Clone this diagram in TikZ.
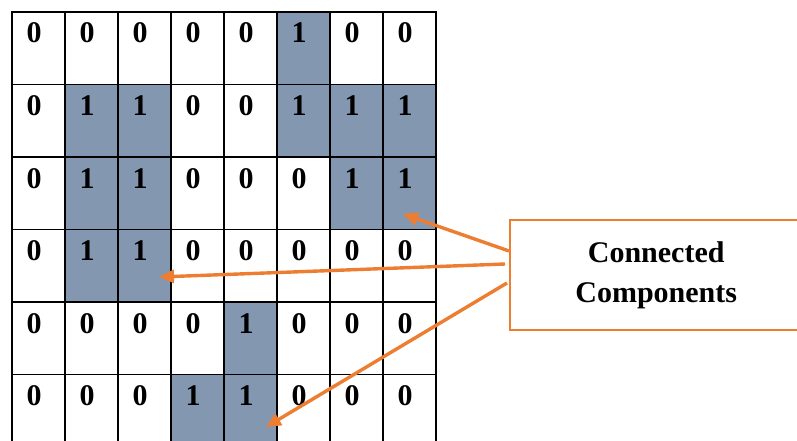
\documentclass[tikz,border=0pt]{standalone}
\usepackage{fontspec}
\setmainfont{Liberation Serif}
\usetikzlibrary{arrows.meta}
\definecolor{cellblue}{HTML}{8497B0}
\definecolor{orng}{HTML}{ED7D31}
\begin{document}
\begin{tikzpicture}[x=1pt,y=-1pt,
  cellnum/.style={font=\fontsize{30}{36}\selectfont\bfseries, anchor=base, inner sep=0pt},
  gridline/.style={line width=1.6pt, black},
  labelbox/.style={draw=orng, line width=2.4pt, minimum width=292pt, minimum height=110pt,
    align=center, anchor=north west, inner sep=0pt, font=\fontsize{30}{39.5}\selectfont\bfseries},
  arr/.style={draw=orng, line width=3.4pt, -{Triangle[length=15pt,width=13pt]}}]
\useasboundingbox (0,0) rectangle (797,441);
\clip (0,0) rectangle (797,441);
% shaded cells and numbers
\foreach \row [count=\r from 0] in {{0,0,0,0,0,1,0,0},{0,1,1,0,0,1,1,1},{0,1,1,0,0,0,1,1},{0,1,1,0,0,0,0,0},{0,0,0,0,1,0,0,0},{0,0,0,1,1,0,0,0}}{
  \foreach \v [count=\c from 0] in \row {
    \ifnum\v=1 \fill[cellblue] (12+53*\c, 12+72.5*\r) rectangle ++(53,72.5); \fi
    \node[cellnum] (n-\r-\c) at (34+53*\c, 43+72.5*\r) {\v};
  }
}
% grid
\foreach \k in {0,...,8} \draw[gridline] (12+53*\k, 12) -- (12+53*\k, 450);
\foreach \k in {0,...,5} \draw[gridline] (11.2, 12+72.5*\k) -- (436.8, 12+72.5*\k);
% label box
\node[labelbox] (box) at (509,219) {Connected\\Components};
\coordinate (s1) at (509,251);
\coordinate (s2) at (505,264);
\coordinate (s3) at (507,283);
\coordinate (t1) at (403,214);
\coordinate (t2) at (159,277);
\coordinate (t3) at (266,427);
\draw[arr] (s1) -- (t1);
\draw[arr] (s2) -- (t2);
\draw[arr] (s3) -- (t3);
\end{tikzpicture}
\end{document}
